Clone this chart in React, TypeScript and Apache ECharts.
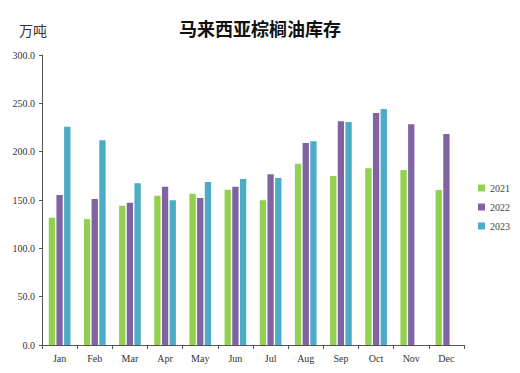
import React, { useEffect, useRef } from "react";
import * as echarts from "echarts";

const months = ["Jan", "Feb", "Mar", "Apr", "May", "Jun", "Jul", "Aug", "Sep", "Oct", "Nov", "Dec"];
const s2021 = [131.7, 130.3, 144.1, 154.5, 156.5, 160.7, 149.7, 187.6, 174.8, 182.8, 181.0, 160.3];
const s2022 = [155.2, 151.0, 147.2, 163.8, 152.0, 163.8, 176.6, 209.0, 231.4, 240.0, 228.3, 218.3];
const s2023 = [225.9, 211.7, 167.2, 149.7, 168.6, 171.7, 172.8, 210.7, 230.7, 244.1, null, null];
const seriesNames = ["2021", "2022", "2023"];
const colors = ["#92D050", "#8064A2", "#4BACC6"];

const serif = "'Liberation Serif', 'DejaVu Serif', serif";

export default function App() {
  const ref = useRef<HTMLDivElement>(null);
  useEffect(() => {
    const chart = echarts.init(ref.current!, null, { renderer: "svg" });
    const data = [s2021, s2022, s2023];
    chart.setOption({
      animation: false,
      backgroundColor: "#ffffff",
      textStyle: { fontFamily: serif },
      title: {
        text: "马来西亚棕榈油库存",
        left: 174,
        top: 14,
        textStyle: { fontFamily: "'Noto Sans CJK SC'", fontWeight: "bold", fontSize: 18, color: "#111" },
      },
      graphic: [
        {
          type: "text",
          left: 19,
          top: 23,
          style: { text: "万吨", font: "14px 'Noto Sans CJK SC'", fill: "#333" },
        },
      ],
      legend: {
        orient: "vertical",
        right: 10,
        top: 183,
        padding: 0,
        itemWidth: 7,
        itemHeight: 7,
        itemGap: 9,
        icon: "rect",
        textStyle: {
          fontFamily: "Liberation Serif",
          fontSize: 10,
          color: "#444",
        },
        data: seriesNames,
      },
      grid: { left: 42, right: 56, top: 55, bottom: 28, containLabel: false },
      xAxis: {
        type: "category",
        data: months,
        axisLine: { lineStyle: { color: "#555", width: 1 } },
        axisTick: { show: true, length: 4, lineStyle: { color: "#555" } },
        axisLabel: { fontFamily: serif, fontSize: 10, color: "#333", margin: 8 },
      },
      yAxis: {
        type: "value",
        min: 0,
        max: 300,
        interval: 50,
        splitLine: { show: false },
        axisLine: { show: true, lineStyle: { color: "#555", width: 1 } },
        axisTick: { show: true, length: 3, lineStyle: { color: "#555" } },
        axisLabel: {
          fontFamily: serif,
          fontSize: 10,
          color: "#333",
          margin: 7,
          formatter: (v: number) => v.toFixed(1),
        },
      },
      series: seriesNames.map((n, i) => ({
        name: n,
        type: "bar",
        data: data[i],
        barWidth: 6.3,
        barGap: "22%",
        itemStyle: { color: colors[i] },
      })),
    });
    return () => chart.dispose();
  }, []);
  return (
    <div
      ref={ref}
      style={{ position: "absolute", left: 0, top: 0, width: 520, height: 373 }}
    />
  );
}
